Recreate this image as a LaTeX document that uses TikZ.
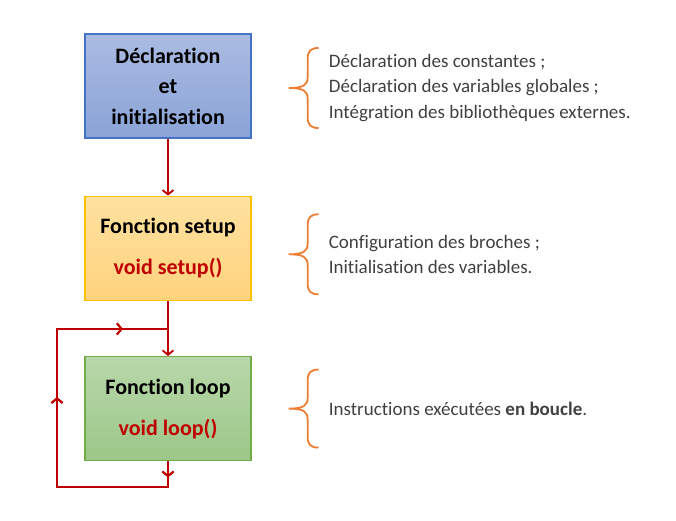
\documentclass[tikz,border=0pt]{standalone}
\usepackage{fontspec}
\setmainfont{Carlito}[Ligatures=NoCommon]
\usetikzlibrary{arrows.meta,decorations.markings,positioning}

\definecolor{rougeligne}{rgb}{0.752941, 0.000000, 0.000000}
\definecolor{orangeaccolade}{rgb}{0.929412, 0.490196, 0.192157}
\definecolor{textegris}{rgb}{0.250980, 0.250980, 0.250980}
\definecolor{bleuhaut}{rgb}{0.670588, 0.733333, 0.886275}
\definecolor{bleubas}{rgb}{0.541176, 0.643137, 0.843137}
\definecolor{bleubord}{rgb}{0.266667, 0.447059, 0.768627}
\definecolor{jaunehaut}{rgb}{1.000000, 0.882353, 0.627451}
\definecolor{jaunebas}{rgb}{1.000000, 0.827451, 0.490196}
\definecolor{jaunebord}{rgb}{1.000000, 0.752941, 0.000000}
\definecolor{verthaut}{rgb}{0.721569, 0.843137, 0.666667}
\definecolor{vertbas}{rgb}{0.611765, 0.780392, 0.533333}
\definecolor{vertbord}{rgb}{0.439216, 0.678431, 0.278431}

\tikzset{
  bloc/.style={minimum width=166pt, minimum height=104pt, inner sep=0pt,
    line width=1.3pt, align=center, text=black,
    font=\fontsize{22}{30.5}\selectfont\bfseries},
  texte/.style={anchor=west, inner sep=0pt, align=left, text=textegris,
    font=\fontsize{19}{25.5}\selectfont},
  fleche/.style={rougeligne, line width=1.8pt,
    -{Straight Barb[length=4.5pt,width=11pt]}},
  pointe/.style={decoration={markings,
    mark=at position #1 with {\arrow{Straight Barb[length=4.5pt,width=11pt]}}},
    postaction={decorate}},
  pics/accolade/.style={code={
    \draw[orangeaccolade, line width=1.8pt]
      (30,-#1) .. controls (22,-#1) and (19,-#1+3) .. (19,-#1+11) -- (19,-11)
      .. controls (19,-3) and (15,0) .. (0,0)
      .. controls (15,0) and (19,3) .. (19,11) -- (19,#1-11)
      .. controls (19,#1-3) and (22,#1) .. (30,#1);
  }}
}

\begin{document}
\begin{tikzpicture}[x=1pt, y=-1pt]
\useasboundingbox (0,0) rectangle (676,521);

% les trois blocs
\node[bloc, draw=bleubord, top color=bleuhaut, bottom color=bleubas]
  (decl) at (168,86) {D\'eclaration\\et\\initialisation};
\node[bloc, draw=jaunebord, top color=jaunehaut, bottom color=jaunebas,
  below=57pt of decl]
  (setup) {Fonction setup\\[10.5pt]\textcolor{rougeligne}{void setup()}};
\node[bloc, draw=vertbord, top color=verthaut, bottom color=vertbas,
  below=55pt of setup]
  (loop) {Fonction loop\\[10.5pt]\textcolor{rougeligne}{void loop()}};

% les commentaires
\node[texte, right=77pt of decl, yshift=-2pt] (txtdecl)
  {D\'eclaration des constantes ;\\D\'eclaration des variables globales ;\\Int\'egration des biblioth\`eques externes.};
\node[texte, right=77pt of setup, yshift=-6pt] (txtsetup)
  {Configuration des broches ;\\Initialisation des variables.};
\node[texte, right=77pt of loop] (txtloop)
  {Instructions ex\'ecut\'ees \textbf{en boucle}.};

% accolades
\pic at ([xshift=-40pt]txtdecl.west) {accolade=40};
\pic at ([xshift=-40pt]txtsetup.west) {accolade=40};
\pic at ([xshift=-40pt]txtloop.west) {accolade=39};

% liaisons
\draw[fleche] (decl) -- (setup);
\draw[fleche] (setup) -- (loop);

% la boucle
\coordinate (jonction) at ([yshift=-28pt]setup.south);
\coordinate (bas) at ([yshift=-26pt]loop.south);
\coordinate (coin1) at ([xshift=-111pt]bas);
\coordinate (coin2) at (coin1 |- jonction);
\draw[rougeligne, line width=1.8pt, pointe=16pt, pointe=227pt, pointe=361pt]
  (loop.south) -- (bas) -- (coin1) -- (coin2) -- (jonction);
\end{tikzpicture}
\end{document}
